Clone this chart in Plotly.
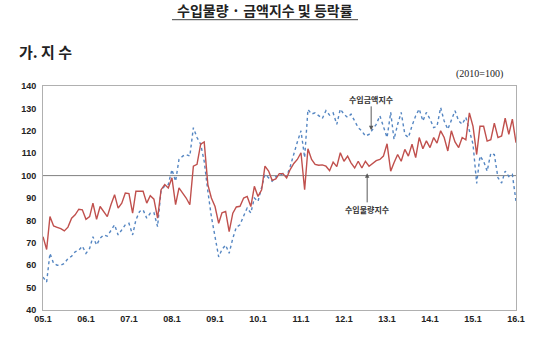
import pandas as pd
import plotly.graph_objects as go

# Monthly index series, 2005.1 - 2016.1 (2010=100)
months = pd.date_range("2005-01-01", "2016-01-01", freq="MS")

volume_index = [
    72.7, 67.0, 81.7, 77.5, 76.9, 76.3, 75.3, 77.0, 81.0, 82.5, 85.0, 84.7,        # 2005
    80.5, 81.7, 87.7, 80.5, 86.2, 84.0, 81.7, 87.0, 91.5, 85.5, 87.7, 92.2,        # 2006
    92.0, 83.2, 93.0, 93.0, 93.0, 87.7, 91.0, 89.5, 81.0, 93.7, 96.0, 94.5,        # 2007
    99.0, 87.0, 94.5, 92.2, 90.0, 87.0, 104.2, 105.0, 114.0, 115.0, 96.0, 90.0,    # 2008
    86.2, 78.7, 83.4, 84.0, 75.0, 83.2, 86.0, 86.3, 90.0, 90.7, 86.2, 95.2,        # 2009
    90.7, 93.7, 104.2, 102.0, 97.9, 98.5, 100.9, 100.9, 99.0, 102.7, 105.4, 107.2, # 2010
    110.2, 93.7, 112.0, 107.2, 105.0, 104.6, 104.8, 104.2, 102.2, 106.0, 104.0, 110.2,  # 2011
    106.4, 108.7, 105.7, 103.4, 106.4, 103.4, 106.4, 104.2, 105.7, 106.7, 107.2, 108.7,  # 2012
    114.2, 102.0, 105.7, 109.4, 106.4, 111.7, 108.7, 114.0, 108.0, 117.0, 112.0, 115.5,  # 2013
    112.5, 117.0, 114.5, 120.0, 117.0, 111.0, 120.0, 115.0, 112.5, 117.0, 116.0, 128.0,  # 2014
    122.0, 109.4, 122.0, 122.0, 115.4, 116.0, 123.4, 117.0, 117.7, 125.6, 118.4, 125.2,  # 2015
    114.7,                                                                          # 2016.1
]

value_index = [
    54.7, 52.5, 65.3, 60.8, 60.0, 60.0, 60.8, 63.0, 64.0, 66.0, 66.7, 68.5,        # 2005
    65.3, 67.5, 72.7, 69.0, 72.0, 73.5, 73.0, 75.7, 78.0, 73.5, 75.7, 78.0,        # 2006
    78.7, 73.5, 80.2, 84.0, 84.7, 81.0, 83.2, 83.5, 77.2, 93.7, 95.2, 96.0,        # 2007
    102.7, 97.5, 107.2, 108.7, 109.4, 108.7, 121.4, 117.0, 114.0, 106.4, 93.0, 81.7,  # 2008
    72.7, 63.7, 67.0, 69.0, 65.3, 72.0, 77.0, 78.0, 82.0, 85.5, 83.3, 90.0,        # 2009
    88.5, 95.0, 100.5, 99.0, 97.5, 99.5, 100.0, 101.0, 99.5, 104.0, 110.0, 115.0,  # 2010
    120.0, 108.0, 129.5, 127.5, 128.0, 126.5, 125.5, 129.0, 127.0, 128.0, 122.9, 129.7,  # 2011
    127.4, 126.0, 127.4, 124.4, 121.4, 119.9, 117.7, 118.4, 120.7, 122.9, 126.7, 121.4,  # 2012
    117.0, 128.2, 116.2, 122.9, 128.2, 118.4, 117.0, 122.2, 126.7, 129.7, 124.4, 128.2,  # 2013
    125.2, 121.4, 122.0, 130.4, 124.4, 120.7, 124.4, 128.9, 124.4, 122.9, 126.0, 120.0,  # 2014
    114.0, 96.5, 108.7, 106.4, 102.0, 110.0, 109.4, 99.0, 96.7, 102.0, 99.6, 100.5,     # 2015
    88.5,                                                                           # 2016.1
]

y_ticks = [40, 50, 60, 70, 80, 90, 100, 110, 120, 130, 140]

volume_name = "수입물량지수"
value_name = "수입금액지수"
title_text = "수입물량 · 금액지수 및 등락률"
section_text = "가. 지 수"
unit_text = "(2010=100)"

KR = "Noto Sans CJK KR, sans-serif"
AX = "Arial, Liberation Sans, sans-serif"

fig = go.Figure()
fig.add_trace(go.Scatter(
    x=months, y=value_index, name=value_name, mode="lines",
    line=dict(color="#5586c2", width=1.4, dash="dot"),
))
fig.add_trace(go.Scatter(
    x=months, y=volume_index, name=volume_name, mode="lines",
    line=dict(color="#c0504d", width=1.4),
))

# reference line at the base year level
fig.add_shape(type="line", xref="paper", x0=0, x1=1, yref="y", y0=100, y1=100,
              line=dict(color="#808080", width=1), layer="below")

# underline of the heading
fig.add_shape(type="line", xref="paper", yref="paper",
              x0=0.2727, x1=0.666, y0=1.296, y1=1.296,
              line=dict(color="#404040", width=1))

annotations = [
    dict(text=f"<b>{title_text}</b>", xref="paper", yref="paper", x=0.469, y=1.339,
         xanchor="center", yanchor="middle", showarrow=False,
         font=dict(family=KR, size=14, color="#222222")),
    dict(text=f"<b>{section_text}</b>", xref="paper", yref="paper", x=-0.055, y=1.152,
         xanchor="left", yanchor="middle", showarrow=False,
         font=dict(family=KR, size=15, color="#222222")),
    dict(text=unit_text, xref="paper", yref="paper", x=0.977, y=1.054,
         xanchor="right", yanchor="middle", showarrow=False,
         font=dict(family="Liberation Serif, DejaVu Serif, serif", size=10, color="#222222")),
    dict(text=f"<b>{value_name}</b>", x="2012-08-19", y=120.2, xref="x", yref="y",
         ax=0, ay=-31, showarrow=True, arrowhead=2, arrowsize=0.9, arrowwidth=1,
         arrowcolor="#595959", standoff=0,
         font=dict(family=KR, size=8, color="#333333")),
    dict(text=f"<b>{volume_name}</b>", x="2012-07-16", y=101.0, xref="x", yref="y",
         ax=0, ay=36, showarrow=True, arrowhead=2, arrowsize=0.9, arrowwidth=1,
         arrowcolor="#595959", standoff=0,
         font=dict(family=KR, size=8, color="#333333")),
]

fig.update_layout(
    width=540, height=341,
    margin=dict(l=43, r=24, t=86, b=31),
    paper_bgcolor="white", plot_bgcolor="white",
    showlegend=False,
    annotations=annotations,
    xaxis=dict(
        range=[months[0], months[-1]],
        tickvals=[d for d in months if d.month == 1],
        tickformat="<b>%y.%-m</b>",
        showgrid=False, zeroline=False,
        showline=True, linecolor="#b0b0b0", linewidth=1, mirror=True,
        ticks="", tickfont=dict(family=AX, size=9, color="#222222"),
    ),
    yaxis=dict(
        range=[40, 140],
        tickvals=y_ticks,
        ticktext=[f"<b>{v}</b>" for v in y_ticks],
        showgrid=False, zeroline=False,
        showline=True, linecolor="#b0b0b0", linewidth=1, mirror=True,
        ticks="", tickfont=dict(family=AX, size=9, color="#222222"),
        ticklabelstandoff=4,
    ),
)

fig.write_html("out.html")
